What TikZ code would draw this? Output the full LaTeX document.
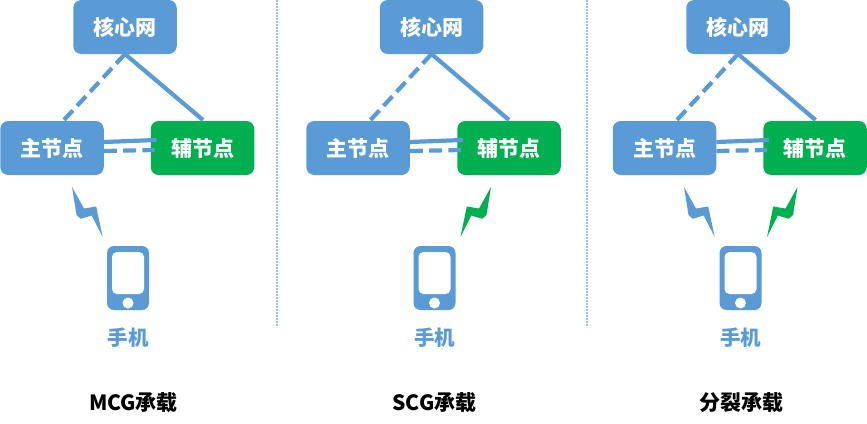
\documentclass[tikz,border=0pt]{standalone}
\usepackage{fontspec}
\setmainfont{Noto Sans CJK SC}
\definecolor{nodeblue}{HTML}{5B9BD5}
\definecolor{nodegreen}{HTML}{00B050}
\definecolor{sepblue}{HTML}{9DC3E6}
\tikzset{
  nodebox/.style={rectangle,rounded corners=8pt,minimum width=103.5pt,minimum height=54pt,inner sep=0pt,text=white,font=\fontsize{21}{21}\selectfont\bfseries},
  corebox/.style={nodebox,fill=nodeblue},
  mainbox/.style={nodebox,fill=nodeblue},
  secbox/.style={nodebox,fill=nodegreen},
  link/.style={nodeblue,line width=4.2pt},
  dashlink/.style={link,dash pattern=on 13pt off 6.2pt},
  phonelabel/.style={text=nodeblue,font=\fontsize{20.5}{20.5}\selectfont\bfseries},
  caption/.style={text=black,font=\fontsize{21}{21}\selectfont\bfseries},
  sepline/.style={sepblue,line width=1.6pt,dash pattern=on 1.6pt off 1.4pt}
}
\begin{document}
\begin{tikzpicture}[x=1pt,y=-1pt]
\useasboundingbox (0,0) rectangle (867,423);
% separators
\draw[sepline] (277,0) -- (277,327);
\draw[sepline] (587,0) -- (587,327);
% links go under the boxes on the core side, so they come first
\coordinate (top1) at (125,54);
\coordinate (top2) at (431.5,54);
\coordinate (top3) at (738,54);
\coordinate (left1) at (64,120);
\coordinate (left2) at (370.5,120);
\coordinate (left3) at (677,120);
\coordinate (right1) at (203,120);
\coordinate (right2) at (509,120);
\coordinate (right3) at (815.5,120);
\draw[dashlink] (top1) -- (left1);
\draw[link] (top1) -- (right1);
\draw[dashlink] (top2) -- (left2);
\draw[link] (top2) -- (right2);
\draw[dashlink] (top3) -- (left3);
\draw[link] (top3) -- (right3);
% first column
\node[corebox] (core1) at (125,27) {核心网};
\node[mainbox] (main1) at (52,148) {主节点};
\node[secbox] (sec1) at (202.5,148) {辅节点};
\draw[link] ([yshift=6pt]main1.east) -- ([xshift=6pt,yshift=8pt]sec1.west);
\draw[dashlink] ([yshift=-3pt]main1.east) -- ([xshift=4pt,yshift=-2pt]sec1.west);
% second column
\node[corebox] (core2) at (431.5,27) {核心网};
\node[mainbox] (main2) at (358,148) {主节点};
\node[secbox] (sec2) at (509,148) {辅节点};
\draw[link] ([yshift=6pt]main2.east) -- ([xshift=6pt,yshift=8pt]sec2.west);
\draw[dashlink] ([yshift=-3pt]main2.east) -- ([xshift=4pt,yshift=-2pt]sec2.west);
% third column
\node[corebox] (core3) at (738,27) {核心网};
\node[mainbox] (main3) at (664.5,148) {主节点};
\node[secbox] (sec3) at (815,148) {辅节点};
\draw[link] ([yshift=6pt]main3.east) -- ([xshift=6pt,yshift=8pt]sec3.west);
\draw[dashlink] ([yshift=-3pt]main3.east) -- ([xshift=4pt,yshift=-2pt]sec3.west);
% radio bolts
\fill[nodeblue] (72,187) -- (76.5,215) -- (80.7,218.8) -- (91.7,215.5) -- (102.7,237) -- (96.2,206.5) -- (84,208.5) -- cycle;
\fill[nodegreen] (491,187) -- (486.5,215) -- (482.3,218.8) -- (471.3,215.5) -- (460.5,237) -- (466.8,206.5) -- (479,208.5) -- cycle;
\fill[nodeblue] (684,187) -- (688.5,215) -- (692.7,218.8) -- (703.7,215.5) -- (714.7,237) -- (708.2,206.5) -- (696,208.5) -- cycle;
\fill[nodegreen] (797.5,187) -- (793,215) -- (788.8,218.8) -- (777.8,215.5) -- (767,237) -- (773.3,206.5) -- (785.5,208.5) -- cycle;
% phones
\fill[nodeblue,rounded corners=7pt] (107,246) rectangle (149,310);
\fill[white,rounded corners=5pt] (112,252) rectangle (144,294);
\fill[white] (128,303) circle (5.5);
\fill[nodeblue,rounded corners=7pt] (413.5,246) rectangle (455.5,310);
\fill[white,rounded corners=5pt] (418.5,252) rectangle (450.5,294);
\fill[white] (434.5,303) circle (5.5);
\fill[nodeblue,rounded corners=7pt] (719.5,246) rectangle (761.5,310);
\fill[white,rounded corners=5pt] (724.5,252) rectangle (756.5,294);
\fill[white] (740.5,303) circle (5.5);
% labels
\node[phonelabel] (phone1) at (128,338) {手机};
\node[phonelabel] (phone2) at (434.5,338) {手机};
\node[phonelabel] (phone3) at (740.5,338) {手机};
\node[caption] (cap1) at (133.5,403) {MCG承载};
\node[caption] (cap2) at (434.5,403) {SCG承载};
\node[caption] (cap3) at (741,403) {分裂承载};
\end{tikzpicture}
\end{document}
